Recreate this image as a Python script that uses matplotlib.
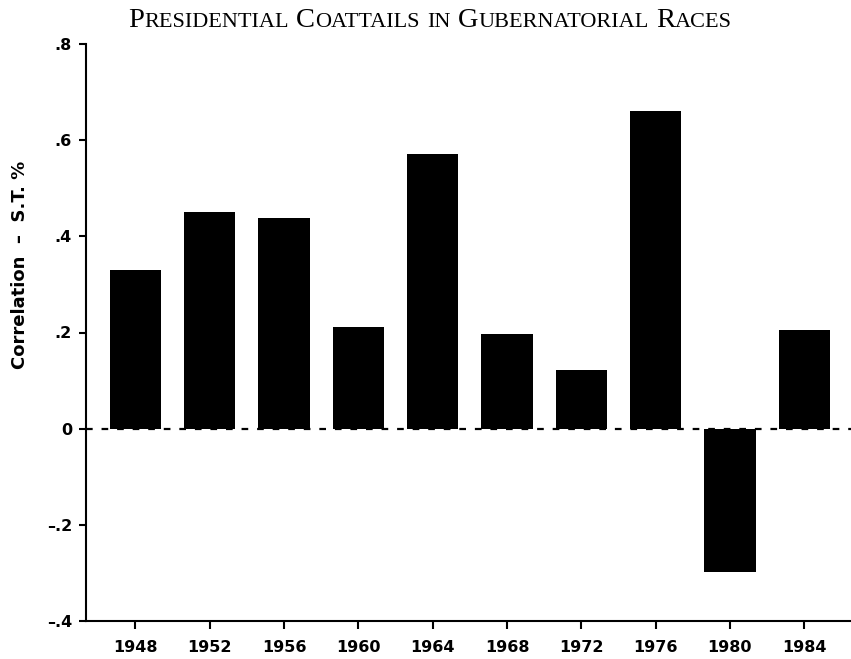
import numpy as np
import matplotlib
matplotlib.use('Agg')
import matplotlib.pyplot as plt

## Data
years = ['1948', '1952', '1956', '1960', '1964', '1968', '1972', '1976', '1980', '1984']
corr = [0.330, 0.451, 0.438, 0.211, 0.571, 0.196, 0.123, 0.661, -0.299, 0.205]
yticks = [-0.4, -0.2, 0, 0.2, 0.4, 0.6, 0.8]
yticklabels = ['\u2013.4', '\u2013.2', '0', '.2', '.4', '.6', '.8']
title = 'Presidential Coattails in Gubernatorial Races'

plt.rcParams['font.family'] = 'DejaVu Sans'
plt.rcParams['font.weight'] = 'bold'

fig = plt.figure(figsize=(8.51, 6.59), dpi=100)
ax = fig.add_axes([86/851, 38/659, 765/851, 577/659])

x = np.arange(len(years))
ax.bar(x, corr, width=0.69, color='black')
ax.axhline(0, color='black', lw=1.6, ls=(0, (3, 4)), zorder=0)

ax.set_xlim(-0.666, 9.63)
ax.set_ylim(-0.4, 0.8)
ax.set_xticks(x)
ax.set_xticklabels(years, fontsize=11.5, fontweight='bold')
ax.set_yticks(yticks)
ax.set_yticklabels(yticklabels, fontsize=11.5, fontweight='bold')

for s in ['top', 'right']:
    ax.spines[s].set_visible(False)
for s in ['left', 'bottom']:
    ax.spines[s].set_linewidth(1.5)
ax.tick_params(axis='y', length=5, width=1.5, pad=5)
ax.tick_params(axis='x', length=6, width=1.5, pad=8)

fig.text(20/851, 1 - 265/659, 'Correlation  \u2013  S.T. %', rotation=90,
         ha='center', va='center', fontsize=13, fontweight='bold')

# small caps title, built from pieces
big, small = 20.5, 16
renderer = fig.canvas.get_renderer()
pieces = []
for w in title.split(' '):
    if w[0].isupper():
        pieces.append((w[0], big))
        if len(w) > 1:
            pieces.append((w[1:].upper(), small))
    else:
        pieces.append((w.upper(), small))
    pieces.append((' ', big))
pieces = pieces[:-1]

texts = []
total = 0
for s, fs in pieces:
    if s == ' ':
        wdt = 0.26 * fs * 100 / 72
        texts.append((None, wdt))
    else:
        t = fig.text(0, 1 - 27/659, s, fontsize=fs, family='Liberation Serif',
                     fontweight='normal', ha='left', va='baseline')
        wdt = t.get_window_extent(renderer).width
        texts.append((t, wdt))
    total += wdt

xpos = 430 - total / 2
for t, wdt in texts:
    if t is not None:
        t.set_x(xpos / 851)
    xpos += wdt

fig.savefig('out.png', dpi=100)
